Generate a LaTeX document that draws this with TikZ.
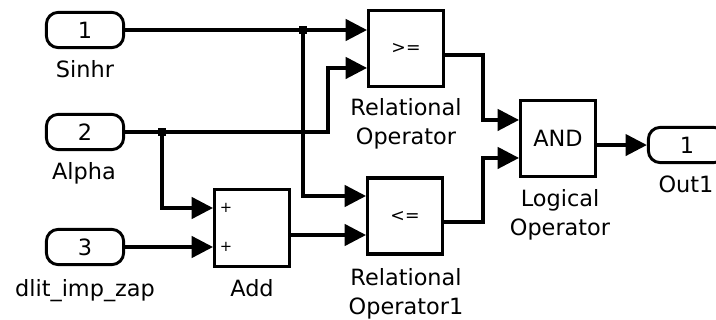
\documentclass[tikz,border=0pt]{standalone}
\usepackage{fontspec}
\setmainfont{DejaVu Sans}
\usetikzlibrary{arrows.meta}
\newcommand{\BlockFont}{\normalfont\fontsize{16.8}{21.75}\selectfont}
\tikzstyle{Block}=[draw,line width=2.5pt,minimum width=56pt,minimum height=57pt,
inner sep=0pt,font=\BlockFont]
\tikzstyle{Port}=[draw,line width=2.2pt,rounded corners=9pt,minimum width=58pt,
minimum height=26.5pt,inner sep=0pt,font=\BlockFont]
\tikzstyle{Wire}=[line width=2.5pt]
\tikzstyle{Signal}=[Wire,-{Triangle[length=16pt,width=16pt]}]
\tikzstyle{Caption}=[anchor=base,align=center,inner sep=0pt,font=\BlockFont]
\tikzstyle{Dot}=[fill,minimum size=6.5pt,inner sep=0pt]
\tikzstyle{Sign}=[inner sep=0pt,font=\normalfont\fontsize{11}{12}\selectfont]
\tikzstyle{Cmp}=[font=\normalfont\fontsize{13}{15}\selectfont]

\begin{document}
\begin{tikzpicture}[x=0.75pt,y=-0.75pt]
        \path[use as bounding box,clip](0,0)rectangle(716,320);
        % ports
        \node[Port](In1)at(85,30){1};
        \node[Port](In2)at(85,132){2};
        \node[Port](In3)at(85,247){3};
        \node[Port](Out1)at(687,145){1};
        % blocks
        \node[Block,minimum height=58pt](Add)at(252,228){};
        \node[Sign](AddS1)at(226,208){+};
        \node[Sign](AddS2)at(226,247){+};
        \node[Block,Cmp](GE)at(406,48.5){>=};
        \node[Block,Cmp](LE)at(405,216){<=};
        \node[Block](AND)at(558,138.5){AND};
        % captions
        \node[Caption](Sinhr)at(85,78){Sinhr};
        \node[Caption](Alpha)at(84,180){Alpha};
        \node[Caption](Zap)at(85,296){dlit\_imp\_zap};
        \node[Caption](AddC)at(252,296){Add};
        \node[Caption](GEC)at(406,145){Relational\\Operator};
        \node[Caption](LEC)at(406,314){Relational\\Operator1};
        \node[Caption](ANDC)at(560,235){Logical\\Operator};
        \node[Caption](Out1C)at(686,193){Out1};
        % block ports
        \coordinate(LE1)at([yshift=15pt]LE.west);
        \coordinate(GE2)at([yshift=-14.6pt]GE.west);
        \coordinate(Add1)at([yshift=15pt]Add.west);
        \coordinate(AddO)at([yshift=-5.25pt]Add.east);
        \coordinate(GEO)at([yshift=-4.9pt]GE.east);
        \coordinate(LEO)at([yshift=-4.5pt]LE.east);
        \coordinate(AND1)at([yshift=13.9pt]AND.west);
        \coordinate(AND2)at([yshift=-14.6pt]AND.west);
        \coordinate(ANDO)at([yshift=-4.9pt]AND.east);
        % junctions and bends
        \node[Dot](J1)at(303,30){};
        \node[Dot](J2)at(162,132){};
        \coordinate(B1)at(328,132);
        \coordinate(B2)at(483,0);
        % wires
        \draw[Wire](In1)--(J1.center);
        \draw[Signal](J1.center)--(GE.west|-J1);
        \draw[Signal](J1.center)|-(LE1);
        \draw[Wire](In2)--(J2.center);
        \draw[Signal](J2.center)--(B1)|-(GE2);
        \draw[Signal](J2.center)|-(Add1);
        \draw[Signal](In3)--(Add.west|-In3);
        \draw[Signal](AddO)--(LE.west|-AddO);
        \draw[Signal](GEO)-|(B2|-AND1)--(AND1);
        \draw[Signal](LEO)-|(B2|-AND2)--(AND2);
        \draw[Signal](ANDO)--(Out1.west|-ANDO);
    \end{tikzpicture}
\end{document}
